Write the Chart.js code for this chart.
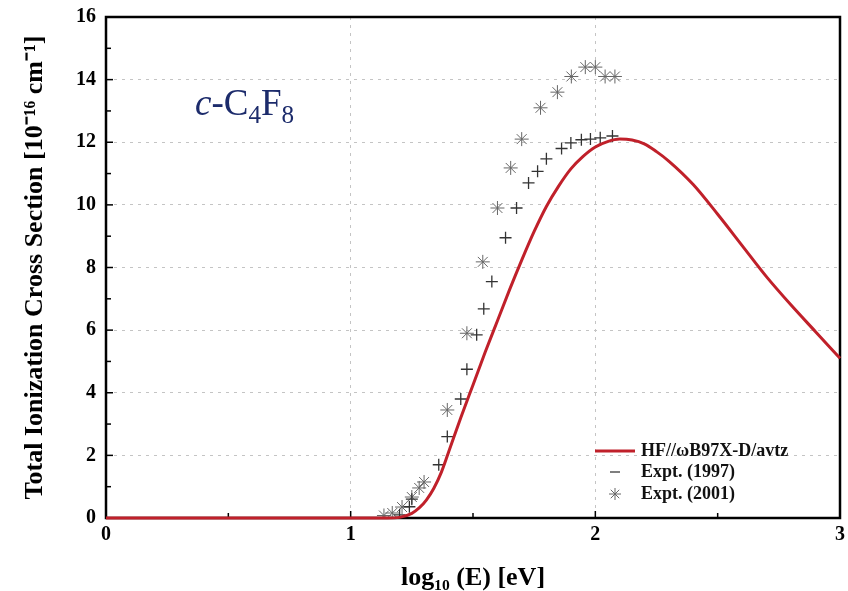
<!DOCTYPE html>
<html>
<head>
<meta charset="utf-8">
<script src="https://cdn.jsdelivr.net/npm/chart.js@4.4.0/dist/chart.umd.min.js"></script>
<style>
  body { margin: 0; background: #fff; }
  #wrap { position: relative; width: 848px; height: 591px; }
  #molecule {
    position: absolute; left: 195px; top: 84px;
    font-family: "Liberation Serif", "Times New Roman", serif;
    font-size: 37px; color: #1c2b6b; line-height: 1;
  }
  #molecule sub { font-size: 0.68em; vertical-align: -0.3em; line-height: 0; }
</style>
</head>
<body>
<div id="wrap">
  <canvas id="chart" width="848" height="591"></canvas>
  <div id="molecule"><i>c</i>-C<sub>4</sub>F<sub>8</sub></div>
</div>
<script>
// HF//wB97X-D/avtz theory curve
const hfLogE = [0, 0.5, 1.0, 1.15, 1.2, 1.25, 1.28, 1.31, 1.34, 1.37, 1.40, 1.45, 1.50, 1.55, 1.60, 1.65, 1.70, 1.75, 1.80, 1.85, 1.90, 1.95, 2.0, 2.05, 2.1, 2.15, 2.2, 2.25, 2.3, 2.4, 2.5, 2.6, 2.7, 2.8, 2.9, 3.0];
const hfSigma = [0, 0, 0, 0, 0.02, 0.15, 0.32, 0.58, 0.95, 1.45, 2.1, 3.2, 4.25, 5.3, 6.3, 7.3, 8.25, 9.15, 9.95, 10.6, 11.15, 11.55, 11.85, 12.02, 12.1, 12.07, 11.95, 11.7, 11.4, 10.65, 9.7, 8.7, 7.7, 6.8, 5.95, 5.1];

// Expt. (1997)
const expt1997LogE = [1.20, 1.24, 1.25, 1.36, 1.395, 1.45, 1.475, 1.515, 1.544, 1.577, 1.633, 1.678, 1.727, 1.764, 1.80, 1.862, 1.90, 1.943, 1.98, 2.02, 2.07];
const expt1997Sigma = [0.1, 0.36, 0.6, 1.7, 2.6, 3.8, 4.75, 5.85, 6.68, 7.55, 8.95, 9.9, 10.7, 11.07, 11.47, 11.8, 11.98, 12.08, 12.1, 12.14, 12.2];

// Expt. (2001)
const expt2001LogE = [1.136, 1.17, 1.21, 1.25, 1.28, 1.30, 1.395, 1.475, 1.54, 1.60, 1.654, 1.699, 1.776, 1.845, 1.902, 1.959, 2.0, 2.04, 2.08];
const expt2001Sigma = [0.08, 0.16, 0.35, 0.67, 0.96, 1.15, 3.45, 5.9, 8.18, 9.9, 11.18, 12.1, 13.1, 13.6, 14.1, 14.4, 14.4, 14.1, 14.1];

const xTicks = [0, 1, 2, 3];
const yTicks = [0, 2, 4, 6, 8, 10, 12, 14, 16];

const serif = "'Liberation Serif', 'Times New Roman', serif";
const red = "#c0202a";

const toPoints = (xs, ys) => xs.map((x, i) => ({ x, y: ys[i] }));

// frame + inward ticks, drawn under the data
const framePlugin = {
  id: "frame",
  beforeDatasetsDraw(chart) {
    const { ctx, chartArea: { left, right, top, bottom }, scales: { x, y } } = chart;
    ctx.save();
    ctx.strokeStyle = "#000";
    ctx.lineWidth = 1.5;
    for (let v = 0; v <= 3; v += 0.5) {
      const px = x.getPixelForValue(v);
      const len = v % 1 === 0 ? 7 : 5;
      ctx.beginPath(); ctx.moveTo(px, bottom); ctx.lineTo(px, bottom - len); ctx.stroke();
    }
    for (let v = 0; v <= 16; v += 1) {
      const py = y.getPixelForValue(v);
      const len = v % 2 === 0 ? 7 : 5;
      ctx.beginPath(); ctx.moveTo(left, py); ctx.lineTo(left + len, py); ctx.stroke();
    }
    ctx.lineWidth = 2.5;
    ctx.strokeRect(left, top, right - left, bottom - top);
    ctx.restore();
  }
};

// legend inside the plot, bottom right
const legendPlugin = {
  id: "insideLegend",
  afterDraw(chart) {
    const { ctx, chartArea: { right, bottom } } = chart;
    const sx = right - 225, tx = right - 199;
    const rows = [bottom - 67, bottom - 46, bottom - 24];
    ctx.save();
    ctx.font = "bold 18px " + serif;
    ctx.textBaseline = "middle";
    chart.data.datasets.forEach((ds, i) => {
      const yy = rows[i];
      if (i === 0) {
        ctx.strokeStyle = red; ctx.lineWidth = 3;
        ctx.beginPath(); ctx.moveTo(sx - 20, yy); ctx.lineTo(sx + 20, yy); ctx.stroke();
      } else if (i === 1) {
        ctx.strokeStyle = "#555"; ctx.lineWidth = 1.5;
        ctx.beginPath(); ctx.moveTo(sx - 5, yy); ctx.lineTo(sx + 5, yy); ctx.stroke();
      } else {
        ctx.strokeStyle = "#666"; ctx.fillStyle = "#666"; ctx.lineWidth = 1;
        Chart.helpers.drawPoint(ctx, { pointStyle: "star", radius: 6, borderWidth: 1, rotation: 0 }, sx, yy);
      }
      ctx.fillStyle = "#111";
      ctx.fillText(ds.label, tx, yy);
    });
    ctx.restore();
  }
};

new Chart(document.getElementById("chart"), {
  type: "scatter",
  data: {
    datasets: [
      {
        label: "HF//\u03c9B97X-D/avtz",
        data: toPoints(hfLogE, hfSigma),
        showLine: true,
        borderColor: red,
        borderWidth: 3,
        pointRadius: 0,
        cubicInterpolationMode: "monotone",
        clip: false,
        order: 0
      },
      {
        label: "Expt. (1997)",
        data: toPoints(expt1997LogE, expt1997Sigma),
        pointStyle: "cross",
        pointRadius: 6,
        borderColor: "#333",
        borderWidth: 1.3,
        order: 1
      },
      {
        label: "Expt. (2001)",
        data: toPoints(expt2001LogE, expt2001Sigma),
        pointStyle: "star",
        pointRadius: 7,
        borderColor: "#666",
        borderWidth: 1,
        order: 2
      }
    ]
  },
  options: {
    responsive: false,
    animation: false,
    layout: { padding: { top: 17, right: 4, left: 0, bottom: 0 } },
    plugins: {
      legend: { display: false },
      tooltip: { enabled: false }
    },
    scales: {
      x: {
        type: "linear",
        min: 0, max: 3,
        afterBuildTicks: s => { s.ticks = xTicks.map(v => ({ value: v })); },
        afterFit: s => { s.height = 73; s.paddingLeft = 0; s.paddingRight = 0; },
        ticks: { color: "#000", font: { family: serif, size: 20, weight: "bold" }, padding: 5 },
        grid: { color: "#c4c4c4", lineWidth: 1, drawTicks: false },
        border: { display: false, dash: [3, 5] },
        title: {
          display: true,
          text: "log\u2081\u2080 (E) [eV]",
          color: "#000",
          font: { family: serif, size: 26, weight: "bold" },
          padding: { top: 0, bottom: -3 }
        }
      },
      y: {
        min: 0, max: 16,
        afterBuildTicks: s => { s.ticks = yTicks.map(v => ({ value: v })); },
        afterFit: s => { s.width = 106; s.paddingTop = 0; s.paddingBottom = 0; },
        ticks: { color: "#000", font: { family: serif, size: 20, weight: "bold" }, padding: 10 },
        grid: { color: "#c4c4c4", lineWidth: 1, drawTicks: false },
        border: { display: false, dash: [3, 5] },
        title: {
          display: true,
          text: "Total Ionization Cross Section [10\u207b\u00b9\u2076 cm\u207b\u00b9]",
          color: "#000",
          font: { family: serif, size: 26, weight: "bold" },
          padding: { top: 20, bottom: 0 }
        }
      }
    }
  },
  plugins: [framePlugin, legendPlugin]
});
</script>
</body>
</html>
